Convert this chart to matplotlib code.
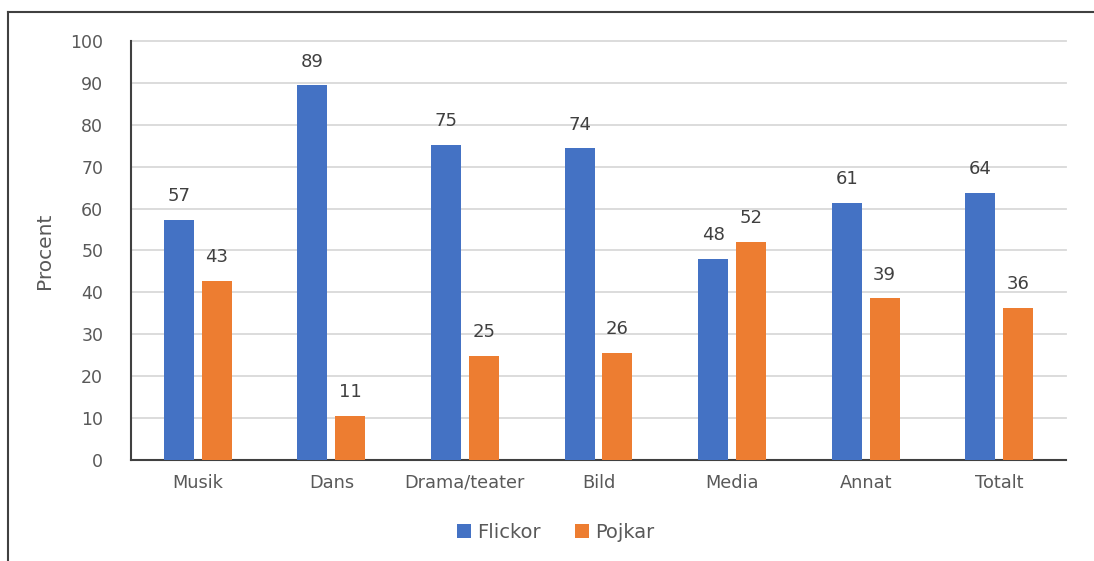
import numpy as np
import matplotlib
matplotlib.use("Agg")
import matplotlib.pyplot as plt
from matplotlib.lines import Line2D

categories = ["Musik", "Dans", "Drama/teater", "Bild", "Media", "Annat", "Totalt"]
flickor = [57.3, 89.4, 75.2, 74.4, 48.0, 61.4, 63.7]
pojkar = [42.7, 10.6, 24.8, 25.6, 52.0, 38.6, 36.3]
flickor_labels = ["57", "89", "75", "74", "48", "61", "64"]
pojkar_labels = ["43", "11", "25", "26", "52", "39", "36"]

blue = "#4472C4"
orange = "#ED7D31"
grey = "#595959"

plt.rcParams['font.family'] = ['DejaVu Sans']

fig = plt.figure(figsize=(10.94, 5.61), dpi=100)
W, H = 1094, 561
ax = fig.add_axes([131 / W, 1 - 460 / H, (1066 - 131) / W, (460 - 41) / H])

x = np.arange(len(categories))
w = 0.225
off = 0.142
b1 = ax.bar(x - off, flickor, w, color=blue, label="Flickor", zorder=3)
b2 = ax.bar(x + off, pojkar, w, color=orange, label="Pojkar", zorder=3)

for rect, lab in zip(b1, flickor_labels):
    ax.text(rect.get_x() + rect.get_width() / 2, rect.get_height() + 3.5, lab,
            ha="center", va="bottom", fontsize=13, color="#404040")
for rect, lab in zip(b2, pojkar_labels):
    ax.text(rect.get_x() + rect.get_width() / 2, rect.get_height() + 3.5, lab,
            ha="center", va="bottom", fontsize=13, color="#404040")

ax.set_xlim(-0.5, len(categories) - 0.5)
ax.set_ylim(0, 100)
ax.set_yticks(range(0, 101, 10))
ax.set_xticks(x)
ax.set_xticklabels(categories)
ax.tick_params(axis="y", length=0, labelsize=12.5, labelcolor=grey, pad=20)
ax.tick_params(axis="x", length=0, labelsize=12.8, labelcolor=grey, pad=10)
ax.grid(axis="y", color="#D9D9D9", linewidth=1.3, zorder=0)
for gl in ax.get_ygridlines():
    gl.set_clip_on(False)
for s in ["top", "right"]:
    ax.spines[s].set_visible(False)
ax.spines["left"].set_color("#404040")
ax.spines["left"].set_linewidth(1.5)
ax.spines["bottom"].set_color("#404040")
ax.spines["bottom"].set_linewidth(1.5)
ax.set_ylabel("Procent", fontsize=14.5, color=grey, labelpad=12)

fig.legend(handles=[b1, b2], loc="center", bbox_to_anchor=(0.508, 1 - 532 / H),
           ncol=2, frameon=False, fontsize=14, labelcolor=grey,
           handlelength=0.7, handleheight=0.7, handletextpad=0.3, columnspacing=1.8)

# outer border of the original chart frame (partly cropped)
fig.add_artist(Line2D([8 / W, 8 / W], [0, 1 - 12 / H], transform=fig.transFigure,
                      color="#404040", linewidth=1.5))
fig.add_artist(Line2D([8 / W, 1.01], [1 - 12 / H, 1 - 12 / H], transform=fig.transFigure,
                      color="#404040", linewidth=1.5))

fig.savefig("out.png", dpi=100)
